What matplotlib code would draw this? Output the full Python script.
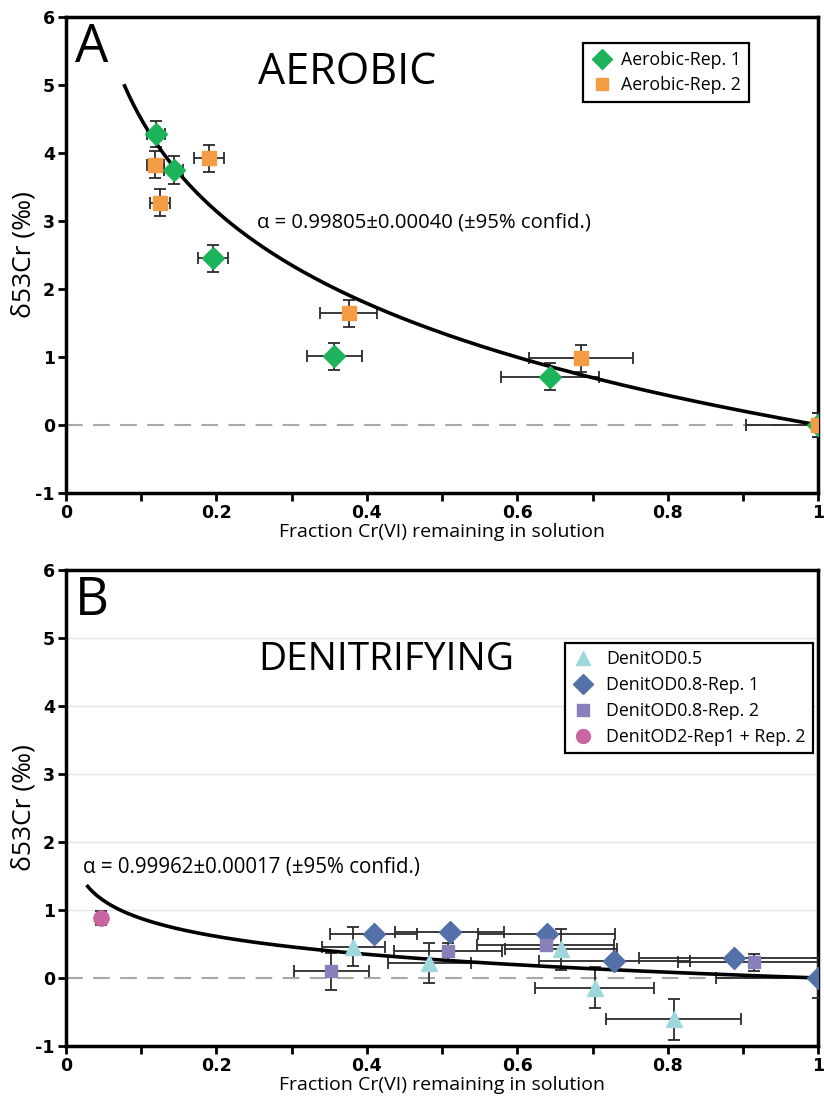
import numpy as np
import matplotlib
matplotlib.use('Agg')
import matplotlib.pyplot as plt
from matplotlib.lines import Line2D

TXT = ['Open Sans', 'DejaVu Sans']

# ------------------------------------------------------------------
# Data
# ------------------------------------------------------------------
# Panel A: aerobic
aer1_f = [0.120, 0.143, 0.195, 0.357, 0.643, 1.000]
aer1_d = [4.28, 3.75, 2.45, 1.01, 0.71, 0.00]
aer1_fe = [0.012, 0.012, 0.020, 0.036, 0.065, 0.0]
aer1_de = [0.19, 0.20, 0.20, 0.20, 0.20, 0.17]

aer2_f = [0.119, 0.125, 0.190, 0.376, 0.685, 1.000]
aer2_d = [3.83, 3.27, 3.92, 1.64, 0.98, 0.00]
aer2_fe = [0.011, 0.013, 0.020, 0.038, 0.069, 0.096]
aer2_de = [0.20, 0.20, 0.20, 0.20, 0.20, 0.17]

alpha_aer = 0.99805
f_aer = (0.078, 1.0)

# Panel B: denitrifying
od05_f = [0.382, 0.483, 0.658, 0.703, 0.808]
od05_d = [0.46, 0.22, 0.42, -0.14, -0.61]
od05_fe = [0.042, 0.055, 0.074, 0.079, 0.090]
od05_de = [0.29, 0.30, 0.30, 0.30, 0.30]

od08a_f = [0.409, 0.510, 0.639, 0.729, 0.888, 1.000]
od08a_d = [0.64, 0.68, 0.64, 0.25, 0.30, 0.00]
od08a_fe = [0.058, 0.072, 0.091, 0.100, 0.126, 0.136]
od08a_de = [0.0, 0.0, 0.0, 0.0, 0.0, 0.29]

od08b_f = [0.353, 0.508, 0.638, 0.914]
od08b_d = [0.10, 0.39, 0.49, 0.23]
od08b_fe = [0.050, 0.072, 0.091, 0.100]
od08b_de = [0.27, 0.13, 0.10, 0.13]

od2_f = [0.047]
od2_d = [0.88]
od2_de = [0.10]

alpha_den = 0.99962
f_den = (0.029, 1.0)

# ------------------------------------------------------------------
fig = plt.figure(figsize=(8.24, 10.97), dpi=100)
axA = fig.add_axes([0.080, 0.5506, 0.913, 0.4339])
axB = fig.add_axes([0.080, 0.0465, 0.913, 0.4339])

ekw = dict(ls='none', ecolor='#2b2b2b', elinewidth=1.3, capsize=4.5, capthick=1.3, zorder=3)


def rayleigh(ax, alpha, frange):
    f = np.linspace(frange[0], frange[1], 300)
    d = 1000.0 * (f ** (alpha - 1.0) - 1.0)
    ax.plot(f, d, color='black', lw=2.6, zorder=4)


def style(ax, grid):
    ax.set_xlim(0, 1)
    ax.set_ylim(-1, 6)
    ax.set_xticks(np.arange(0, 1.01, 0.1))
    ax.set_xticklabels(['0', '', '0.2', '', '0.4', '', '0.6', '', '0.8', '', '1'])
    ax.set_yticks(range(-1, 7))
    ax.set_yticklabels([str(v) for v in range(-1, 7)])
    for lab in ax.get_xticklabels() + ax.get_yticklabels():
        lab.set_fontweight('bold')
        lab.set_fontsize(12.5)
        lab.set_family('DejaVu Sans')
    ax.tick_params(direction='out', length=6, width=2, pad=2)
    for s in ax.spines.values():
        s.set_linewidth(2.5)
    ax.axhline(0, color='#a8a8a8', lw=1.5, ls=(0, (8, 5)), zorder=1)
    if grid:
        for v in range(1, 6):
            ax.axhline(v, color='#e4e4e4', lw=1.0, zorder=0)
    ax.set_xlabel('Fraction Cr(VI) remaining in solution', family=TXT, fontsize=14, labelpad=1)
    ax.set_ylabel('δ53Cr (‰)', family=TXT, fontsize=19, labelpad=-1)


# ---------------- Panel A ----------------
axA.errorbar(aer1_f, aer1_d, xerr=aer1_fe, yerr=aer1_de, **ekw)
axA.errorbar(aer2_f, aer2_d, xerr=aer2_fe, yerr=aer2_de, **ekw)
rayleigh(axA, alpha_aer, f_aer)
axA.plot(aer1_f, aer1_d, ls='none', marker='D', ms=11, color='#1db35b', zorder=5)
axA.plot(aer2_f, aer2_d, ls='none', marker='s', ms=10, color='#f39c44', zorder=6)
style(axA, grid=False)
axA.text(0.012, 5.93, 'A', family=TXT, fontsize=38, va='top', ha='left')
axA.text(0.255, 5.18, 'AEROBIC', family=TXT, fontsize=31, va='center', ha='left')
axA.text(0.254, 2.98, 'α = 0.99805±0.00040 (±95% confid.)', family=TXT, fontsize=14.6,
         va='center', ha='left')
hA = [Line2D([], [], ls='none', marker='D', ms=10, color='#1db35b'),
      Line2D([], [], ls='none', marker='s', ms=9, color='#f39c44')]
legA = axA.legend(hA, ['Aerobic-Rep. 1', 'Aerobic-Rep. 2'], loc='upper left',
                  bbox_to_anchor=(0.6875, 0.945), borderaxespad=0, fancybox=False,
                  framealpha=1, edgecolor='black', prop={'family': TXT, 'size': 12.8},
                  handletextpad=0.5, labelspacing=0.4, borderpad=0.45, handlelength=1.2)
legA.get_frame().set_linewidth(1.6)

# ---------------- Panel B ----------------
axB.errorbar(od05_f, od05_d, xerr=od05_fe, yerr=od05_de, **ekw)
axB.errorbar(od08a_f, od08a_d, xerr=od08a_fe, yerr=od08a_de, **ekw)
axB.errorbar(od08b_f, od08b_d, xerr=od08b_fe, yerr=od08b_de, **ekw)
axB.errorbar(od2_f, od2_d, yerr=od2_de, **ekw)
rayleigh(axB, alpha_den, f_den)
axB.plot(od05_f, od05_d, ls='none', marker='^', ms=11, color='#9fd8dc', zorder=5)
axB.plot(od08a_f, od08a_d, ls='none', marker='D', ms=11, color='#5470a8', zorder=5)
axB.plot(od08b_f, od08b_d, ls='none', marker='s', ms=9, color='#8880ba', zorder=6)
axB.plot(od2_f, od2_d, ls='none', marker='o', ms=11, color='#c865a2', zorder=6)
style(axB, grid=True)
axB.text(0.012, 5.93, 'B', family=TXT, fontsize=38, va='top', ha='left')
axB.text(0.255, 4.68, 'DENITRIFYING', family=TXT, fontsize=28, va='center', ha='left')
axB.text(0.023, 1.62, 'α = 0.99962±0.00017 (±95% confid.)', family=TXT, fontsize=14.8,
         va='center', ha='left')
hB = [Line2D([], [], ls='none', marker='^', ms=10, color='#9fd8dc'),
      Line2D([], [], ls='none', marker='D', ms=10, color='#5470a8'),
      Line2D([], [], ls='none', marker='s', ms=8, color='#8880ba'),
      Line2D([], [], ls='none', marker='o', ms=10, color='#c865a2')]
legB = axB.legend(hB, ['DenitOD0.5', 'DenitOD0.8-Rep. 1', 'DenitOD0.8-Rep. 2',
                       'DenitOD2-Rep1 + Rep. 2'], loc='upper left',
                  bbox_to_anchor=(0.664, 0.847), borderaxespad=0, fancybox=False,
                  framealpha=1, edgecolor='black', prop={'family': TXT, 'size': 12.8},
                  handletextpad=0.7, labelspacing=0.45, borderpad=0.4, handlelength=1.2)
legB.get_frame().set_linewidth(1.6)

fig.savefig('out.png', dpi=100)
